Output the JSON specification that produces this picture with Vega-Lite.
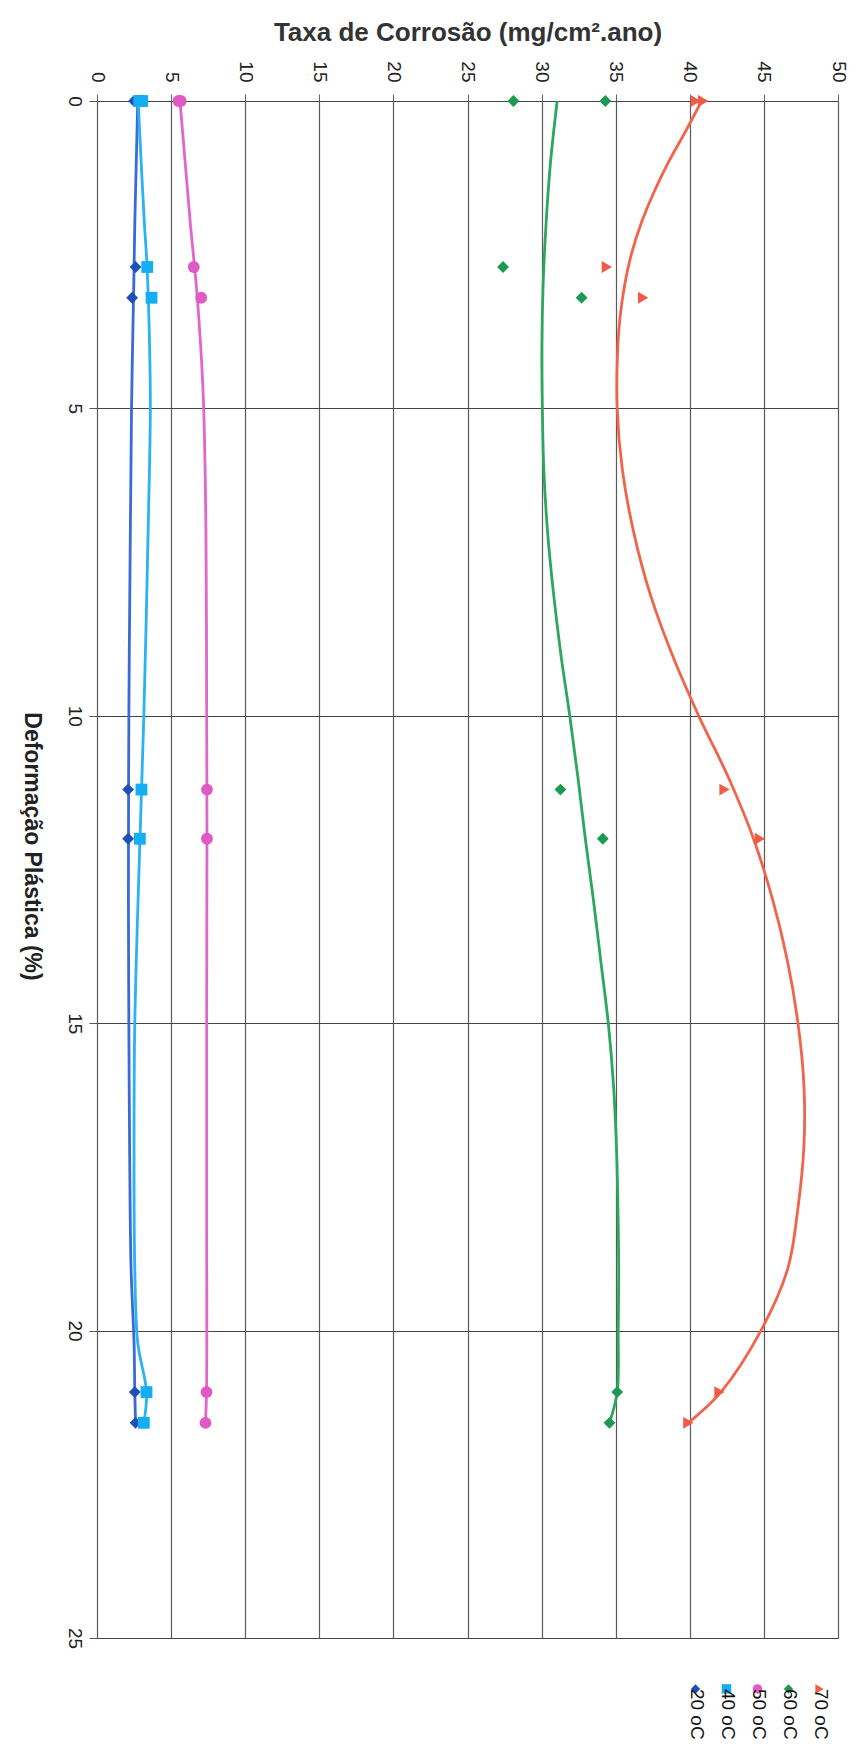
{
  "$schema": "https://vega.github.io/schema/vega-lite/v6.json",
  "width": 741,
  "height": 1537,
  "autosize": {"type": "none"},
  "padding": {"left": 97, "top": 101, "right": 21, "bottom": 126},
  "background": "white",
  "config": {
    "view": {"stroke": null},
    "font": "Liberation Sans",
    "style": {"guide-label": {"angle": 90}},
    "legend": {
      "orient": "none",
      "legendX": 589,
      "legendY": 1578,
      "direction": "horizontal",
      "symbolSize": 90,
      "labelFont": "Liberation Sans",
      "labelFontSize": 19,
      "labelColor": "#111111",
      "labelAlign": "left",
      "labelBaseline": "middle",
      "labelOffset": -8,
      "columnPadding": 10
    }
  },
  "datasets": {
    "pts": [
      {"serie": "20 oC", "def": 0, "taxa": 2.5},
      {"serie": "20 oC", "def": 0, "taxa": 2.7},
      {"serie": "20 oC", "def": 2.7, "taxa": 2.6},
      {"serie": "20 oC", "def": 3.2, "taxa": 2.37},
      {"serie": "20 oC", "def": 11.2, "taxa": 2.1},
      {"serie": "20 oC", "def": 12, "taxa": 2.1},
      {"serie": "20 oC", "def": 21, "taxa": 2.55},
      {"serie": "20 oC", "def": 21.5, "taxa": 2.6},
      {"serie": "40 oC", "def": 0, "taxa": 2.85},
      {"serie": "40 oC", "def": 0, "taxa": 3.05},
      {"serie": "40 oC", "def": 2.7, "taxa": 3.39},
      {"serie": "40 oC", "def": 3.2, "taxa": 3.68},
      {"serie": "40 oC", "def": 11.2, "taxa": 3.0},
      {"serie": "40 oC", "def": 12, "taxa": 2.89},
      {"serie": "40 oC", "def": 21, "taxa": 3.34},
      {"serie": "40 oC", "def": 21.5, "taxa": 3.16},
      {"serie": "50 oC", "def": 0, "taxa": 5.5},
      {"serie": "50 oC", "def": 0, "taxa": 5.65},
      {"serie": "50 oC", "def": 2.7, "taxa": 6.53},
      {"serie": "50 oC", "def": 3.2, "taxa": 7.03},
      {"serie": "50 oC", "def": 11.2, "taxa": 7.42},
      {"serie": "50 oC", "def": 12, "taxa": 7.42},
      {"serie": "50 oC", "def": 21, "taxa": 7.39},
      {"serie": "50 oC", "def": 21.5, "taxa": 7.32},
      {"serie": "60 oC", "def": 0, "taxa": 28.1},
      {"serie": "60 oC", "def": 0, "taxa": 34.3},
      {"serie": "60 oC", "def": 2.7, "taxa": 27.4},
      {"serie": "60 oC", "def": 3.2, "taxa": 32.7},
      {"serie": "60 oC", "def": 11.2, "taxa": 31.27},
      {"serie": "60 oC", "def": 12, "taxa": 34.13},
      {"serie": "60 oC", "def": 21, "taxa": 35.1},
      {"serie": "60 oC", "def": 21.5, "taxa": 34.58},
      {"serie": "70 oC", "def": 0, "taxa": 40.4},
      {"serie": "70 oC", "def": 0, "taxa": 40.9},
      {"serie": "70 oC", "def": 2.7, "taxa": 34.4},
      {"serie": "70 oC", "def": 3.2, "taxa": 36.85},
      {"serie": "70 oC", "def": 11.2, "taxa": 42.34},
      {"serie": "70 oC", "def": 12, "taxa": 44.73},
      {"serie": "70 oC", "def": 21, "taxa": 42.0},
      {"serie": "70 oC", "def": 21.5, "taxa": 39.9}
    ],
    "curvas": [
      {"serie": "20 oC", "def": 0, "taxa": 2.75},
      {"serie": "20 oC", "def": 1, "taxa": 2.65},
      {"serie": "20 oC", "def": 2, "taxa": 2.55},
      {"serie": "20 oC", "def": 3, "taxa": 2.48},
      {"serie": "20 oC", "def": 4, "taxa": 2.4},
      {"serie": "20 oC", "def": 5, "taxa": 2.33},
      {"serie": "20 oC", "def": 7, "taxa": 2.25},
      {"serie": "20 oC", "def": 10, "taxa": 2.15},
      {"serie": "20 oC", "def": 13, "taxa": 2.12},
      {"serie": "20 oC", "def": 15, "taxa": 2.15},
      {"serie": "20 oC", "def": 17, "taxa": 2.2},
      {"serie": "20 oC", "def": 19, "taxa": 2.3},
      {"serie": "20 oC", "def": 20.2, "taxa": 2.5},
      {"serie": "20 oC", "def": 21, "taxa": 2.55},
      {"serie": "20 oC", "def": 21.5, "taxa": 2.6},
      {"serie": "40 oC", "def": 0, "taxa": 2.78},
      {"serie": "40 oC", "def": 1, "taxa": 2.98},
      {"serie": "40 oC", "def": 2, "taxa": 3.2},
      {"serie": "40 oC", "def": 2.7, "taxa": 3.38},
      {"serie": "40 oC", "def": 4, "taxa": 3.55},
      {"serie": "40 oC", "def": 5, "taxa": 3.6},
      {"serie": "40 oC", "def": 7, "taxa": 3.45},
      {"serie": "40 oC", "def": 10, "taxa": 3.16},
      {"serie": "40 oC", "def": 12, "taxa": 2.9},
      {"serie": "40 oC", "def": 15, "taxa": 2.55},
      {"serie": "40 oC", "def": 17, "taxa": 2.5},
      {"serie": "40 oC", "def": 19, "taxa": 2.55},
      {"serie": "40 oC", "def": 20.2, "taxa": 2.75},
      {"serie": "40 oC", "def": 21, "taxa": 3.34},
      {"serie": "40 oC", "def": 21.5, "taxa": 3.16},
      {"serie": "50 oC", "def": 0, "taxa": 5.6},
      {"serie": "50 oC", "def": 1, "taxa": 5.95},
      {"serie": "50 oC", "def": 2, "taxa": 6.3},
      {"serie": "50 oC", "def": 3, "taxa": 6.7},
      {"serie": "50 oC", "def": 4, "taxa": 7.0},
      {"serie": "50 oC", "def": 5, "taxa": 7.2},
      {"serie": "50 oC", "def": 7, "taxa": 7.35},
      {"serie": "50 oC", "def": 10, "taxa": 7.4},
      {"serie": "50 oC", "def": 12, "taxa": 7.42},
      {"serie": "50 oC", "def": 15, "taxa": 7.4},
      {"serie": "50 oC", "def": 18, "taxa": 7.4},
      {"serie": "50 oC", "def": 21, "taxa": 7.39},
      {"serie": "50 oC", "def": 21.5, "taxa": 7.32},
      {"serie": "60 oC", "def": 0, "taxa": 31.05},
      {"serie": "60 oC", "def": 1, "taxa": 30.6},
      {"serie": "60 oC", "def": 2, "taxa": 30.3},
      {"serie": "60 oC", "def": 3, "taxa": 30.1},
      {"serie": "60 oC", "def": 4, "taxa": 30.02},
      {"serie": "60 oC", "def": 5, "taxa": 30.05},
      {"serie": "60 oC", "def": 6, "taxa": 30.15},
      {"serie": "60 oC", "def": 7, "taxa": 30.4},
      {"serie": "60 oC", "def": 8, "taxa": 30.8},
      {"serie": "60 oC", "def": 9, "taxa": 31.3},
      {"serie": "60 oC", "def": 10, "taxa": 31.9},
      {"serie": "60 oC", "def": 11, "taxa": 32.45},
      {"serie": "60 oC", "def": 12, "taxa": 32.95},
      {"serie": "60 oC", "def": 13, "taxa": 33.5},
      {"serie": "60 oC", "def": 14, "taxa": 34.0},
      {"serie": "60 oC", "def": 15, "taxa": 34.5},
      {"serie": "60 oC", "def": 16, "taxa": 34.85},
      {"serie": "60 oC", "def": 17, "taxa": 35.05},
      {"serie": "60 oC", "def": 18, "taxa": 35.15},
      {"serie": "60 oC", "def": 19, "taxa": 35.2},
      {"serie": "60 oC", "def": 20, "taxa": 35.17},
      {"serie": "60 oC", "def": 21, "taxa": 35.1},
      {"serie": "60 oC", "def": 21.5, "taxa": 34.58},
      {"serie": "70 oC", "def": 0, "taxa": 40.8},
      {"serie": "70 oC", "def": 0.5, "taxa": 39.7},
      {"serie": "70 oC", "def": 1, "taxa": 38.55},
      {"serie": "70 oC", "def": 1.5, "taxa": 37.55},
      {"serie": "70 oC", "def": 2, "taxa": 36.7},
      {"serie": "70 oC", "def": 2.5, "taxa": 36.05},
      {"serie": "70 oC", "def": 3, "taxa": 35.6},
      {"serie": "70 oC", "def": 3.5, "taxa": 35.3},
      {"serie": "70 oC", "def": 4, "taxa": 35.14},
      {"serie": "70 oC", "def": 5, "taxa": 35.1},
      {"serie": "70 oC", "def": 6, "taxa": 35.45},
      {"serie": "70 oC", "def": 7, "taxa": 36.2},
      {"serie": "70 oC", "def": 8, "taxa": 37.3},
      {"serie": "70 oC", "def": 9, "taxa": 38.8},
      {"serie": "70 oC", "def": 10, "taxa": 40.6},
      {"serie": "70 oC", "def": 11, "taxa": 42.6},
      {"serie": "70 oC", "def": 12, "taxa": 44.3},
      {"serie": "70 oC", "def": 13, "taxa": 45.6},
      {"serie": "70 oC", "def": 14, "taxa": 46.6},
      {"serie": "70 oC", "def": 15, "taxa": 47.3},
      {"serie": "70 oC", "def": 16, "taxa": 47.7},
      {"serie": "70 oC", "def": 17, "taxa": 47.7},
      {"serie": "70 oC", "def": 18, "taxa": 47.3},
      {"serie": "70 oC", "def": 19, "taxa": 46.6},
      {"serie": "70 oC", "def": 20, "taxa": 44.8},
      {"serie": "70 oC", "def": 21, "taxa": 42.1},
      {"serie": "70 oC", "def": 21.5, "taxa": 39.9}
    ]
  },
  "encoding": {
    "x": {
      "field": "taxa",
      "type": "quantitative",
      "scale": {"domain": [0, 50], "nice": false, "zero": false},
      "axis": {
        "orient": "top",
        "values": [0, 5, 10, 15, 20, 25, 30, 35, 40, 45, 50],
        "title": "Taxa de Corrosão (mg/cm².ano)",
        "titleFont": "Liberation Sans",
        "titleFontSize": 26,
        "titleFontWeight": "bold",
        "titleColor": "#333333",
        "titlePadding": 15,
        "grid": true,
        "gridColor": "#5a5a5a",
        "gridWidth": 1.2,
        "domain": false,
        "tickColor": "#666666",
        "tickSize": 7,
        "labelAngle": 90,
        "labelAlign": "right",
        "labelBaseline": "middle",
        "labelPadding": 12,
        "labelFlush": false,
        "labelOverlap": false,
        "labelFont": "Liberation Sans",
        "labelFontSize": 19,
        "labelColor": "#222222"
      }
    },
    "y": {
      "field": "def",
      "type": "quantitative",
      "scale": {"domain": [0, 25], "nice": false, "zero": false, "reverse": true},
      "axis": {
        "orient": "left",
        "values": [0, 5, 10, 15, 20, 25],
        "title": "Deformação Plástica (%)",
        "titleFont": "Liberation Sans",
        "titleFontSize": 23,
        "titleFontWeight": "bold",
        "titleColor": "#222222",
        "titleAngle": 90,
        "titleAlign": "center",
        "titleBaseline": "middle",
        "titleX": -66,
        "titleY": 745,
        "grid": true,
        "gridColor": "#444444",
        "gridWidth": 1.2,
        "domain": false,
        "tickColor": "#555555",
        "tickSize": 8,
        "labelAngle": 90,
        "labelAlign": "center",
        "labelBaseline": "top",
        "labelPadding": 6,
        "labelFlush": false,
        "labelOverlap": false,
        "labelFont": "Liberation Sans",
        "labelFontSize": 19,
        "labelColor": "#222222"
      }
    }
  },
  "layer": [
    {
      "data": {"name": "curvas"},
      "mark": {"type": "line", "interpolate": "catmull-rom", "strokeWidth": 2.8},
      "encoding": {
        "order": {"field": "def", "type": "quantitative"},
        "detail": {"field": "serie", "type": "nominal"},
        "stroke": {
          "field": "serie",
          "type": "nominal",
          "legend": null,
          "scale": {
            "range": ["#3a6ad8", "#2ab2f2", "#e266c8", "#2aa85e", "#f2634c"]
          }
        }
      }
    },
    {
      "data": {"name": "pts"},
      "mark": {"type": "point", "filled": true, "opacity": 1, "size": 140},
      "encoding": {
        "color": {
          "field": "serie",
          "type": "nominal",
          "title": null,
          "scale": {
            "domain": ["20 oC", "40 oC", "50 oC", "60 oC", "70 oC"],
            "range": ["#1f4fb8", "#16aef2", "#df5ac4", "#1d9a52", "#f05a46"]
          },
          "legend": {"labelExpr": "'\u00a0\u00a0\u00a0' + datum.label"}
        },
        "shape": {
          "field": "serie",
          "type": "nominal",
          "title": null,
          "scale": {
            "domain": ["20 oC", "40 oC", "50 oC", "60 oC", "70 oC"],
            "range": ["diamond", "square", "circle", "diamond", "triangle-right"]
          },
          "legend": {"labelExpr": "'\u00a0\u00a0\u00a0' + datum.label"}
        }
      }
    }
  ]
}
